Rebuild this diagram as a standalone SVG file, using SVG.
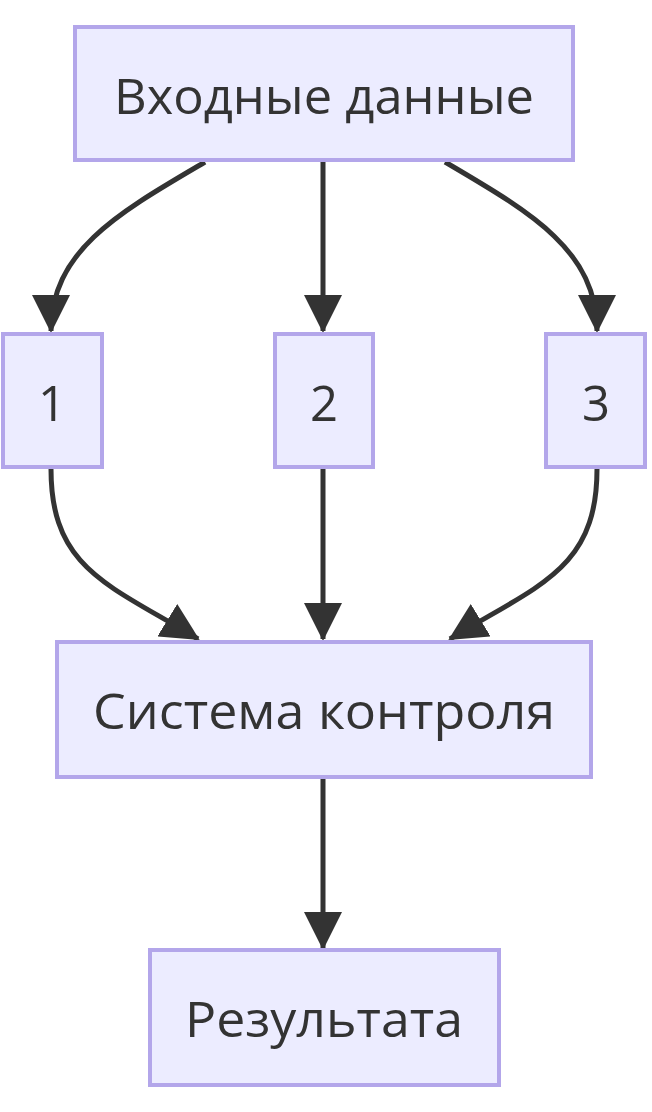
<svg xmlns="http://www.w3.org/2000/svg" width="652" height="1112" viewBox="0 0 652 1112">
<style>
.node rect{fill:#ECECFF;stroke:#b3a6ea;stroke-width:4}
.node text{font-family:"Open Sans","DejaVu Sans",sans-serif;font-size:49px;fill:#333;text-anchor:middle;dominant-baseline:central}
.edge{fill:none;stroke:#333;stroke-width:5}
</style>
<defs>
<marker id="arrow" markerUnits="userSpaceOnUse" viewBox="0 0 38 38" markerWidth="38" markerHeight="38" refX="36" refY="19" orient="auto">
<path d="M0,0 L38,19 L0,38 z" fill="#333"/>
</marker>
</defs>
<rect width="652" height="1112" fill="#fff"/>
<g id="connectors">
<path class="edge" d="M205,162 C120,212 51,250 51,331" marker-end="url(#arrow)"/>
<path class="edge" d="M323,162 L323,331" marker-end="url(#arrow)"/>
<path class="edge" d="M445,162 C530,212 597,250 597,331" marker-end="url(#arrow)"/>
<path class="edge" d="M51,469 C51,570 110,585 198,639" marker-end="url(#arrow)"/>
<path class="edge" d="M323,469 L323,639" marker-end="url(#arrow)"/>
<path class="edge" d="M597,469 C597,570 538,585 450,639" marker-end="url(#arrow)"/>
<path class="edge" d="M323,779 L323,948" marker-end="url(#arrow)"/>
</g>
<g id="node-input" class="node"><rect x="75" y="27" width="498" height="133"/><text x="324" y="95" textLength="420" lengthAdjust="spacingAndGlyphs">Входные данные</text></g>
<g id="node-1" class="node"><rect x="3" y="334" width="99" height="133"/><text x="52" y="402">1</text></g>
<g id="node-2" class="node"><rect x="275" y="334" width="98" height="133"/><text x="324" y="402">2</text></g>
<g id="node-3" class="node"><rect x="546" y="334" width="99" height="133"/><text x="596" y="402">3</text></g>
<g id="node-control" class="node"><rect x="57" y="642" width="534" height="135"/><text x="324" y="710" textLength="462" lengthAdjust="spacingAndGlyphs">Система контроля</text></g>
<g id="node-result" class="node"><rect x="150" y="950" width="349" height="135"/><text x="324" y="1018" textLength="278" lengthAdjust="spacingAndGlyphs">Результата</text></g>
</svg>
